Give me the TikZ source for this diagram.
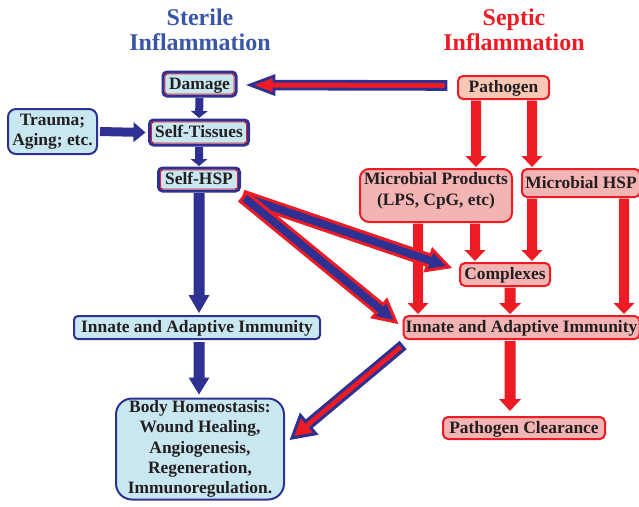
\documentclass[tikz,border=0pt]{standalone}
\usepackage{fontspec}
\setmainfont{Liberation Serif}
\usetikzlibrary{calc}
\definecolor{navy}{HTML}{2E3192}
\definecolor{sred}{HTML}{ED1C24}
\definecolor{tblue}{HTML}{3A57A7}
\definecolor{lblue}{HTML}{C8E7F1}
\definecolor{pinkf}{HTML}{F3B4B4}
\definecolor{salmon}{HTML}{F9C7B5}
\definecolor{txt}{HTML}{231F20}
% #1 style, #2 tail, #3 tip, #4 shaft half width, #5 head half width, #6 head length
\newcommand\blockarrow[6]{%
  \path[#1] let \p1=(#2), \p2=(#3), \n1={atan2(\y2-\y1,\x2-\x1)} in
    ($(\p1)+(\n1+90:#4)$) -- ($(\p2)+(\n1:-#6)+(\n1+90:#4)$) --
    ($(\p2)+(\n1:-#6)+(\n1+90:#5)$) -- (\p2) --
    ($(\p2)+(\n1:-#6)+(\n1-90:#5)$) -- ($(\p2)+(\n1:-#6)+(\n1-90:#4)$) --
    ($(\p1)+(\n1-90:#4)$) -- cycle;}
\newcommand\innerred[1]{%
  \draw[sred, line width=0.9pt, rounded corners=2.5pt]
    ([xshift=2pt,yshift=-2pt]#1.north west) rectangle ([xshift=-2pt,yshift=2pt]#1.south east);}
\begin{document}
\begin{tikzpicture}[x=1pt,y=-1pt,
  every node/.style={font=\fontsize{17.4pt}{19.5pt}\selectfont\bfseries, text=txt,
    inner sep=0pt, outer sep=0pt, align=center},
  title/.style={font=\fontsize{24pt}{26pt}\selectfont\bfseries},
  oneline/.style={text height=11.5pt, text depth=1.5pt},
  sbox/.style={draw=navy, line width=3pt, fill=lblue, rounded corners=4pt, oneline},
  lbox/.style={draw=navy, line width=2pt, fill=lblue, rounded corners=#1},
  lbox/.default=4pt,
  rbox/.style={draw=sred, line width=2pt, fill=pinkf, rounded corners=#1},
  rbox/.default=5pt,
  barrow/.style={fill=navy},
  rarrow/.style={fill=sred},
  boutl/.style={fill=navy, draw=sred, line width=3pt, line join=miter},
  routl/.style={fill=sred, draw=navy, line width=#1, line join=miter},
  routl/.default=3pt
]
\useasboundingbox (0,0) rectangle (639,506);

% titles
\node[title, text=tblue, anchor=base] (t1a) at (200,25) {Sterile};
\node[title, text=tblue, anchor=base] (t1b) at (200,50) {Inflammation};
\node[title, text=sred, anchor=base] (t2a) at (514,25) {Septic};
\node[title, text=sred, anchor=base] (t2b) at (514,50) {Inflammation};

% sterile side
\node[sbox, minimum width=73pt, minimum height=24pt] (dmg) at (199.5,84) {Damage};
\node[sbox, minimum width=99pt, minimum height=25pt] (st) at (199,132.5) {Self-Tissues};
\node[sbox, minimum width=81pt, minimum height=23pt] (shsp) at (199,179.5) {Self-HSP};
\innerred{dmg}
\innerred{st}
\innerred{shsp}
\node[lbox=8pt, minimum width=89pt, minimum height=45pt] (tr) at (52.5,131.5) {Trauma;\\Aging; etc.};
\node[lbox=4pt, oneline, minimum width=246pt, minimum height=23pt] (innL) at (197,327.5) {Innate and Adaptive Immunity};
\node[lbox=16pt, minimum width=168pt, minimum height=101pt,
  font=\fontsize{17.4pt}{20.2pt}\selectfont\bfseries] (body) at (200,449)
  {Body Homeostasis:\\Wound Healing,\\Angiogenesis,\\Regeneration,\\Immunoregulation.};

% septic side
\node[rbox=5pt, fill=salmon, oneline, minimum width=91pt, minimum height=23pt] (path) at (503.5,87.5) {Pathogen};
\node[rbox=9pt, minimum width=152pt, minimum height=53pt] (mprod) at (436,195.5) {};
\node[font=\fontsize{17.4pt}{21pt}\selectfont\bfseries] (mprodt) at (436,191) {Microbial Products\\(LPS, CpG, etc)};
\node[rbox=5pt, oneline, minimum width=118pt, minimum height=28pt] (mhsp) at (581,183) {Microbial HSP};
\node[rbox=5pt, oneline, minimum width=90pt, minimum height=23pt] (cplx) at (505,274.5) {Complexes};
\node[rbox=5pt, oneline, minimum width=236pt, minimum height=23pt] (innR) at (521.5,327.5) {Innate and Adaptive Immunity};
\node[rbox=5pt, oneline, minimum width=162pt, minimum height=22pt] (clr) at (524,428) {Pathogen Clearance};

% blue solid arrows
\blockarrow{barrow}{$(tr.east)+(3,0)$}{$(st.west)+(-4,0)$}{4.5pt}{10pt}{12pt}
\blockarrow{barrow}{$(dmg.south)+(0,2)$}{$(st.north)+(0,-2)$}{4pt}{8.5pt}{7pt}
\blockarrow{barrow}{$(st.south)+(0,2)$}{$(shsp.north)+(0,-2)$}{4pt}{8.5pt}{7pt}
\blockarrow{barrow}{$(shsp.south)+(0,2)$}{$(innL.north)+(2,-3)$}{5.5pt}{10.5pt}{18pt}
\blockarrow{barrow}{$(innL.south)+(2,3)$}{$(body.north)+(-1,-4)$}{5.5pt}{10.5pt}{17pt}

% red solid arrows
\blockarrow{rarrow}{$(path.south)+(-27.5,1.5)$}{$(mprod.north)+(40,-2)$}{5pt}{10.5pt}{11pt}
\blockarrow{rarrow}{$(path.south)+(28.5,1.5)$}{$(mhsp.north)+(-49,-2)$}{5pt}{10.5pt}{11pt}
\blockarrow{rarrow}{$(mprod.south)+(-18,1.5)$}{$(innR.north)+(-103.5,-2)$}{5pt}{10.5pt}{11pt}
\blockarrow{rarrow}{$(mprod.south)+(39,1.5)$}{$(cplx.north)+(-30,-2)$}{5pt}{10.5pt}{11pt}
\blockarrow{rarrow}{$(mhsp.south)+(-49,1.5)$}{$(cplx.north)+(27,-2)$}{5pt}{10.5pt}{11pt}
\blockarrow{rarrow}{$(mhsp.south)+(43,1.5)$}{$(innR.north)+(102.5,-2)$}{5pt}{10.5pt}{11pt}
\blockarrow{rarrow}{$(cplx.south)+(5,1.5)$}{$(innR.north)+(-11.5,-2)$}{5.5pt}{11pt}{11pt}
\blockarrow{rarrow}{$(innR.south)+(-11.5,2)$}{$(clr.north)+(-14,-6)$}{5.5pt}{11pt}{12pt}

% outlined arrows
\blockarrow{routl=2.8pt}{$(path.west)+(-12,-2)$}{$(dmg.east)+(14,1)$}{3.9pt}{9pt}{24pt}
\blockarrow{boutl}{$(shsp.south east)+(4,6)$}{$(cplx.west)+(-11,-7.5)$}{5.5pt}{11pt}{21pt}
\blockarrow{boutl}{$(shsp.south east)+(4,6)$}{$(innR.west)+(-7.5,-5.5)$}{5.5pt}{11pt}{21pt}
\blockarrow{routl=3pt}{$(innR.south west)+(-1.5,7)$}{$(body.east)+(8,-11)$}{4pt}{12pt}{21pt}
\end{tikzpicture}
\end{document}
